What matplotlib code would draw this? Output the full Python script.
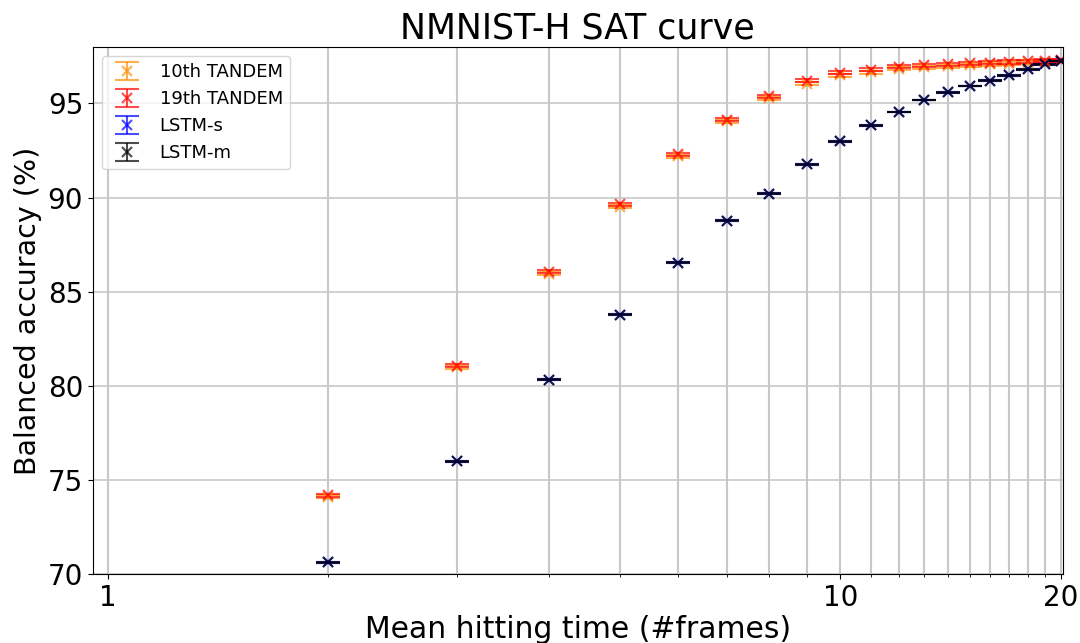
import matplotlib
matplotlib.use("Agg")
import matplotlib.pyplot as plt
from matplotlib.ticker import FixedLocator, FixedFormatter, NullFormatter

frames = [2, 3, 4, 5, 6, 7, 8, 9, 10, 11, 12, 13, 14, 15, 16, 17, 18, 19, 20]

tandem10 = [74.12, 80.98, 85.95, 89.52, 92.2, 94.05, 95.28, 96.05, 96.5, 96.66,
            96.84, 96.92, 96.97, 97.03, 97.07, 97.12, 97.15, 97.2, 97.25]
tandem19 = [74.2, 81.06, 86.06, 89.65, 92.3, 94.13, 95.37, 96.2, 96.62, 96.78,
            96.95, 97.02, 97.07, 97.13, 97.16, 97.2, 97.23, 97.27, 97.3]
lstm_s = [70.64, 76.0, 80.32, 83.78, 86.54, 88.78, 90.21, 91.76, 92.98, 93.83,
          94.54, 95.18, 95.6, 95.92, 96.2, 96.49, 96.81, 97.07, 97.25]
lstm_m = [70.64, 76.0, 80.32, 83.78, 86.54, 88.78, 90.21, 91.76, 92.98, 93.83,
          94.54, 95.18, 95.6, 95.92, 96.2, 96.49, 96.81, 97.07, 97.25]

tandem_err = 0.08
lstm_err = 0.02

fig = plt.figure(figsize=(10.8, 6.43), dpi=100)
ax = fig.add_axes([0.086, 0.107, 0.898, 0.82])

series = [
    ("10th TANDEM", tandem10, tandem_err, "darkorange"),
    ("19th TANDEM", tandem19, tandem_err, "red"),
    ("LSTM-s", lstm_s, lstm_err, "blue"),
    ("LSTM-m", lstm_m, lstm_err, "black"),
]
for label, vals, err, color in series:
    ax.errorbar(frames, vals, yerr=err, fmt="x", color=color, alpha=0.7,
                capsize=8.6, markersize=7, markeredgewidth=1.5,
                elinewidth=1.5, capthick=1.5, label=label)

ax.set_xscale("log")
ax.set_xlim(0.955, 20.1)
ax.set_ylim(70, 98)

ax.xaxis.set_major_locator(FixedLocator([1, 10, 20]))
ax.xaxis.set_major_formatter(FixedFormatter(["1", "10", "20"]))
ax.xaxis.set_minor_locator(FixedLocator([2, 3, 4, 5, 6, 7, 8, 9, 11, 12, 13,
                                         14, 15, 16, 17, 18, 19]))
ax.xaxis.set_minor_formatter(NullFormatter())
ax.set_yticks([70, 75, 80, 85, 90, 95])

ax.grid(True, which="both", axis="x", color="#c8c8c8", linewidth=1.5)
ax.grid(True, which="major", axis="y", color="#c8c8c8", linewidth=1.2)
ax.set_axisbelow(True)

ax.tick_params(labelsize=20)
ax.set_xlabel("Mean hitting time (#frames)", fontsize=21.5, labelpad=2)
ax.set_ylabel("Balanced accuracy (%)", fontsize=20.5)
ax.set_title("NMNIST-H SAT curve", fontsize=25)
ax.legend(loc="upper left", fontsize=13)

fig.savefig("out.png", dpi=100)
